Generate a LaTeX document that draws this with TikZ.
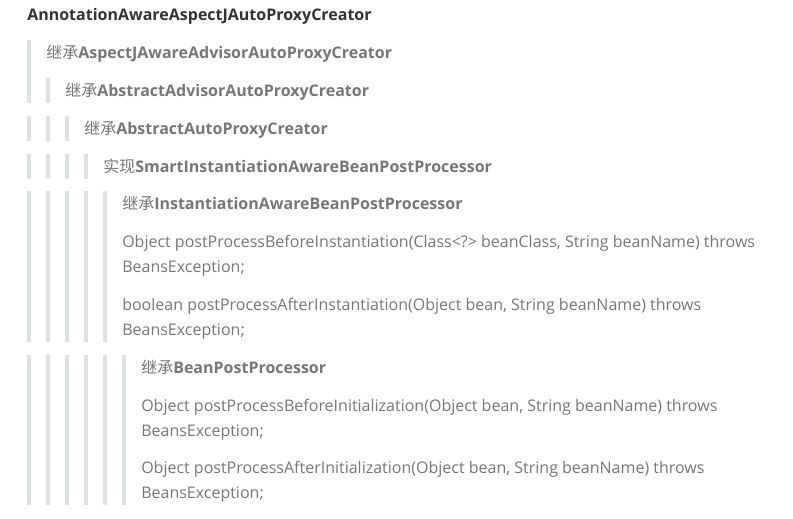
\documentclass[tikz,border=0pt]{standalone}
\usepackage{fontspec}
\setmainfont{Open Sans}
\newfontfamily\cjk{Noto Sans CJK SC}
\usetikzlibrary{positioning}
\definecolor{barcol}{HTML}{DFE2E5}
\definecolor{quotecol}{HTML}{777777}
\definecolor{headcol}{HTML}{333333}
\newcommand{\jc}{{\cjk 继承}}
\newcommand{\sx}{{\cjk 实现}}

\begin{document}
\begin{tikzpicture}[x=0.75pt, y=-0.75pt,
  txt/.style={anchor=base west, inner sep=0pt, text=quotecol, font=\fontsize{12}{15}\selectfont},
  head/.style={txt, text=headcol, font=\fontsize{12}{15}\selectfont\bfseries}]
\useasboundingbox (0,0) rectangle (793,518);
% quote bars
\foreach \y/\yy/\n in {40/103/1, 78/103/2, 116/141/3, 154/179/4, 191/342/5, 355/505/6}
  \foreach \i in {1,...,\n} \fill[barcol] ({27+19*(\i-1)},\y) rectangle ({31+19*(\i-1)},\yy);
\node[head] (root) at (27,20) {AnnotationAwareAspectJAutoProxyCreator};
\node[txt] (aspectj) at (46,58) {\jc\textbf{AspectJAwareAdvisorAutoProxyCreator}};
\node[txt] (advisor) at (65,96) {\jc\textbf{AbstractAdvisorAutoProxyCreator}};
\node[txt] (autoproxy) at (84,134) {\jc\textbf{AbstractAutoProxyCreator}};
\node[txt] (smart) at (103,172) {\sx\textbf{SmartInstantiationAwareBeanPostProcessor}};
\node[txt] (inst) at (122,209) {\jc\textbf{InstantiationAwareBeanPostProcessor}};
\node[txt] (before1) at (122,247) {Object postProcessBeforeInstantiation(Class<?> beanClass, String beanName) throws};
\node[txt] (before1b) at (122,272) {BeansException;};
\node[txt] (after1) at (122,310) {boolean postProcessAfterInstantiation(Object bean, String beanName) throws};
\node[txt] (after1b) at (122,335) {BeansException;};
\node[txt] (bpp) at (141,373) {\jc\textbf{BeanPostProcessor}};
\node[txt] (before2) at (141,411) {Object postProcessBeforeInitialization(Object bean, String beanName) throws};
\node[txt] (before2b) at (141,436) {BeansException;};
\node[txt] (after2) at (141,473) {Object postProcessAfterInitialization(Object bean, String beanName) throws};
\node[txt] (after2b) at (141,498) {BeansException;};
\end{tikzpicture}
\end{document}
